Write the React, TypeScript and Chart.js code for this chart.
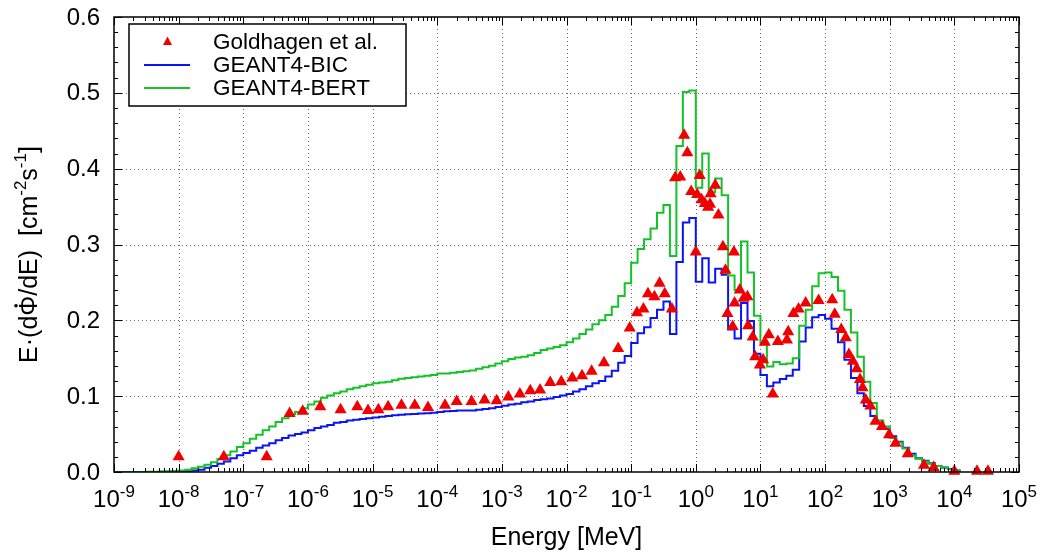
import React, { useEffect, useRef } from 'react';
import { Chart, registerables } from 'chart.js';

Chart.register(...registerables);

// ---- data ----
// Histogram bins: 10 bins per decade starting at 1e-9 MeV
const BIN_LOG_START = -9;
const BIN_LOG_WIDTH = 0.1;

const bicValues = [
  0, 0, 0, 0, 0, 0, 0.0001, 0.0002, 0.0003, 0.0005,
  0.0008, 0.001, 0.002, 0.003, 0.0055, 0.008, 0.011, 0.014, 0.018, 0.022,
  0.025, 0.028, 0.032, 0.035, 0.038, 0.042, 0.045, 0.048, 0.05, 0.052,
  0.055, 0.058, 0.06, 0.062, 0.065, 0.066, 0.068, 0.069, 0.07, 0.071,
  0.072, 0.073, 0.074, 0.075, 0.0755, 0.076, 0.0765, 0.077, 0.0775, 0.078,
  0.079, 0.08, 0.0805, 0.081, 0.081, 0.081, 0.082, 0.083, 0.084, 0.0857,
  0.0875, 0.089, 0.09, 0.092, 0.093, 0.095, 0.096, 0.097, 0.099, 0.101,
  0.103, 0.106, 0.109, 0.113, 0.117, 0.12, 0.126, 0.1335, 0.144, 0.153,
  0.17, 0.183, 0.191, 0.203, 0.214, 0.225, 0.182, 0.277, 0.329, 0.335,
  0.251, 0.282, 0.25, 0.268, 0.26, 0.188, 0.176, 0.223, 0.199, 0.156,
  0.128, 0.113, 0.118, 0.1225, 0.127, 0.135, 0.172, 0.1905, 0.204, 0.207,
  0.202, 0.189, 0.171, 0.148, 0.124, 0.104, 0.087, 0.074, 0.065, 0.057,
  0.047, 0.04, 0.032, 0.024, 0.018, 0.015, 0.0115, 0.008, 0.006, 0.004,
  0.002,
];

const bertValues = [
  0, 0, 0, 0, 0, 0.0002, 0.0004, 0.0006, 0.0009, 0.0013,
  0.002, 0.003, 0.005, 0.007, 0.0095, 0.013, 0.017, 0.022, 0.027, 0.033,
  0.038, 0.044, 0.049, 0.055, 0.06, 0.066, 0.071, 0.076, 0.079, 0.084,
  0.089, 0.093, 0.098, 0.101, 0.104, 0.106, 0.109, 0.111, 0.113, 0.115,
  0.117, 0.118, 0.119, 0.121, 0.123, 0.124, 0.125, 0.126, 0.127, 0.128,
  0.13, 0.13, 0.131, 0.132, 0.133, 0.134, 0.136, 0.138, 0.14, 0.143,
  0.146, 0.149, 0.151, 0.152, 0.154, 0.157, 0.161, 0.163, 0.165, 0.167,
  0.171, 0.176, 0.182, 0.188, 0.195, 0.2, 0.207, 0.218, 0.232, 0.249,
  0.276, 0.294, 0.307, 0.321, 0.342, 0.352, 0.285, 0.43, 0.501, 0.503,
  0.375, 0.42, 0.369, 0.387, 0.365, 0.259, 0.24, 0.304, 0.263, 0.206,
  0.17, 0.139, 0.145, 0.142, 0.143, 0.15, 0.193, 0.214, 0.245, 0.262,
  0.263, 0.257, 0.239, 0.214, 0.184, 0.152, 0.119, 0.091, 0.068, 0.06,
  0.045, 0.039, 0.031, 0.022, 0.0175, 0.014, 0.011, 0.008, 0.0055, 0.0035,
  0.0015,
];

// Goldhagen et al. measurement: energy [MeV] and E·dΦ/dE
const goldEnergy = [
  1.0e-8, 5.0e-8, 2.3e-7, 5.2e-7, 8.3e-7, 1.55e-6, 3.2e-6, 5.8e-6, 8.5e-6, 1.23e-5,
  1.74e-5, 2.8e-5, 4.5e-5, 7.2e-5, 1.32e-4, 2.0e-4, 3.4e-4, 5.4e-4, 8.3e-4, 1.26e-3,
  1.9e-3, 2.75e-3, 3.9e-3, 5.6e-3, 8.3e-3, 1.23e-2, 1.74e-2, 2.45e-2, 3.8e-2, 6.3e-2,
  9.5e-2, 0.123, 0.155, 0.182, 0.229, 0.275, 0.331, 0.427, 0.479, 0.575,
  0.66, 0.74, 0.85, 1.0, 1.05, 1.15, 1.23, 1.38, 1.55, 1.66,
  1.7, 2.0, 2.24, 2.63, 2.88, 3.09, 3.72, 3.89, 3.98, 4.79,
  5.5, 6.3, 6.46, 7.6, 8.3, 9.8, 11.0, 11.7, 13.5, 15.5,
  18.6, 25.7, 26.9, 32.4, 38.9, 50.1, 79.4, 129, 141, 178,
  209, 234, 269, 309, 347, 380, 427, 501, 603, 759,
  977, 1230, 1905, 3390, 4790, 10000, 22400, 33100,
];
const goldFlux = [
  0.02, 0.02, 0.02, 0.077, 0.08, 0.086, 0.082, 0.086, 0.081, 0.082,
  0.086, 0.088, 0.088, 0.085, 0.088, 0.093, 0.093, 0.095, 0.094, 0.099,
  0.103, 0.107, 0.108, 0.118, 0.119, 0.124, 0.127, 0.133, 0.144, 0.163,
  0.19, 0.21, 0.215, 0.235, 0.231, 0.249, 0.235, 0.215, 0.388, 0.389,
  0.444, 0.421, 0.37, 0.29, 0.366, 0.391, 0.359, 0.354, 0.349, 0.353,
  0.367, 0.378, 0.339, 0.297, 0.266, 0.209, 0.192, 0.29, 0.223, 0.24,
  0.229, 0.231, 0.193, 0.178, 0.152, 0.141, 0.148, 0.171, 0.181, 0.103,
  0.172, 0.174, 0.185, 0.209, 0.215, 0.223, 0.226, 0.227, 0.208, 0.188,
  0.177, 0.155, 0.146, 0.136, 0.122, 0.111, 0.095, 0.087, 0.067, 0.06,
  0.049, 0.038, 0.024, 0.009, 0.006, 0.001, 0.001, 0.001,
];

const xTickExponents = [-9, -8, -7, -6, -5, -4, -3, -2, -1, 0, 1, 2, 3, 4, 5];
const yTickValues = [0, 0.1, 0.2, 0.3, 0.4, 0.5, 0.6];
const yTickLabels = ['0.0', '0.1', '0.2', '0.3', '0.4', '0.5', '0.6'];

const seriesNames = ['Goldhagen et al.', 'GEANT4-BIC', 'GEANT4-BERT'];
const xAxisTitle = 'Energy [MeV]';

// ---- styles ----
const FONT = '"Liberation Sans", Arial, Helvetica, sans-serif';
const BLUE = '#0a14f5';
const GREEN = '#14c328';
const RED = '#f00000';
const TICK_SIZE = 24;
const SUP_SIZE = 17;
const TITLE_SIZE = 25;
const KEY_SIZE = 22.5;

function histPoints(values: number[]) {
  const pts = values.map((v, k) => ({ x: Math.pow(10, BIN_LOG_START + k * BIN_LOG_WIDTH), y: v }));
  pts.push({
    x: Math.pow(10, BIN_LOG_START + values.length * BIN_LOG_WIDTH),
    y: values[values.length - 1],
  });
  return pts;
}

type Part = { t: string; sup?: boolean };

function partsWidth(ctx: CanvasRenderingContext2D, parts: Part[], size: number, supSize: number) {
  let w = 0;
  for (const p of parts) {
    ctx.font = `${p.sup ? supSize : size}px ${FONT}`;
    w += ctx.measureText(p.t).width;
  }
  return w;
}

function drawParts(
  ctx: CanvasRenderingContext2D,
  parts: Part[],
  x: number,
  y: number,
  size: number,
  supSize: number,
  supRise: number,
) {
  ctx.textAlign = 'left';
  ctx.textBaseline = 'alphabetic';
  let cx = x;
  for (const p of parts) {
    ctx.font = `${p.sup ? supSize : size}px ${FONT}`;
    ctx.fillText(p.t, cx, p.sup ? y - supRise : y);
    cx += ctx.measureText(p.t).width;
  }
}

const gnuplotPlugin = {
  id: 'gnuplotFrame',
  beforeDatasetsDraw(chart: any) {
    const { ctx, chartArea: a, scales } = chart;
    const xs = scales.x;
    const ys = scales.y;
    ctx.save();
    ctx.strokeStyle = '#6a6a6a';
    ctx.lineWidth = 1;
    ctx.setLineDash([1, 3]);
    for (const e of xTickExponents) {
      if (e <= -9 || e >= 5) continue;
      const px = Math.round(xs.getPixelForValue(Math.pow(10, e))) + 0.5;
      ctx.beginPath();
      ctx.moveTo(px, a.top);
      ctx.lineTo(px, a.bottom);
      ctx.stroke();
    }
    for (const v of yTickValues) {
      if (v <= 0 || v >= 0.6) continue;
      const py = Math.round(ys.getPixelForValue(v)) + 0.5;
      ctx.beginPath();
      ctx.moveTo(a.left, py);
      ctx.lineTo(a.right, py);
      ctx.stroke();
    }
    ctx.restore();
  },
  afterDatasetsDraw(chart: any) {
    const { ctx, chartArea: a, scales } = chart;
    const xs = scales.x;
    const ys = scales.y;
    ctx.save();
    ctx.setLineDash([]);
    ctx.strokeStyle = '#000';
    ctx.fillStyle = '#000';

    // ticks
    ctx.lineWidth = 1;
    ctx.beginPath();
    for (let d = -9; d <= 5; d++) {
      const px = Math.round(xs.getPixelForValue(Math.pow(10, d))) + 0.5;
      ctx.moveTo(px, a.bottom);
      ctx.lineTo(px, a.bottom - 8);
      ctx.moveTo(px, a.top);
      ctx.lineTo(px, a.top + 8);
      if (d < 5) {
        for (let m = 2; m <= 9; m++) {
          const mx = Math.round(xs.getPixelForValue(m * Math.pow(10, d))) + 0.5;
          ctx.moveTo(mx, a.bottom);
          ctx.lineTo(mx, a.bottom - 4);
          ctx.moveTo(mx, a.top);
          ctx.lineTo(mx, a.top + 4);
        }
      }
    }
    for (let i = 0; i <= 30; i++) {
      const v = i * 0.02;
      const py = Math.round(ys.getPixelForValue(v)) + 0.5;
      const len = i % 5 === 0 ? 8 : 4;
      ctx.moveTo(a.left, py);
      ctx.lineTo(a.left + len, py);
      ctx.moveTo(a.right, py);
      ctx.lineTo(a.right - len, py);
    }
    ctx.stroke();

    // frame
    ctx.lineWidth = 1.5;
    ctx.strokeRect(a.left, a.top, a.right - a.left, a.bottom - a.top);

    // y tick labels
    ctx.font = `${TICK_SIZE}px ${FONT}`;
    ctx.textAlign = 'right';
    ctx.textBaseline = 'middle';
    yTickValues.forEach((v, i) => {
      ctx.fillText(yTickLabels[i], a.left - 14, ys.getPixelForValue(v) + 1);
    });

    // x tick labels: 10^e
    for (const e of xTickExponents) {
      const px = xs.getPixelForValue(Math.pow(10, e));
      const parts: Part[] = [{ t: '10' }, { t: String(e), sup: true }];
      const w = partsWidth(ctx, parts, TICK_SIZE, SUP_SIZE);
      drawParts(ctx, parts, px - w / 2, a.bottom + 35, TICK_SIZE, SUP_SIZE, 10);
    }

    // x title
    ctx.font = `${TITLE_SIZE}px ${FONT}`;
    ctx.textAlign = 'center';
    ctx.textBaseline = 'alphabetic';
    ctx.fillText(xAxisTitle, (a.left + a.right) / 2, a.bottom + 73);

    // y title (rotated)
    const head = 'E\u00B7(d';
    const yParts: Part[] = [
      { t: head + '\u03A6/dE)  [cm' },
      { t: '-2', sup: true },
      { t: 's' },
      { t: '-1', sup: true },
      { t: ']' },
    ];
    const yw = partsWidth(ctx, yParts, TITLE_SIZE, SUP_SIZE);
    ctx.save();
    ctx.translate(37, (a.top + a.bottom) / 2 + 10);
    ctx.rotate(-Math.PI / 2);
    drawParts(ctx, yParts, -yw / 2, 0, TITLE_SIZE, SUP_SIZE, 11);
    // dot above Phi (time derivative)
    ctx.font = `${TITLE_SIZE}px ${FONT}`;
    const hw = ctx.measureText(head).width;
    const pw = ctx.measureText('\u03A6').width;
    ctx.beginPath();
    ctx.arc(-yw / 2 + hw + pw / 2, -21, 1.8, 0, Math.PI * 2);
    ctx.fill();
    ctx.restore();

    // legend
    const lx = 129, ly = 24, lw = 277, lh = 82;
    ctx.fillStyle = '#fff';
    ctx.fillRect(lx, ly, lw, lh);
    ctx.strokeStyle = '#000';
    ctx.lineWidth = 1.5;
    ctx.strokeRect(lx, ly, lw, lh);
    const rows = [41.5, 65, 88];
    ctx.fillStyle = RED;
    ctx.beginPath();
    ctx.moveTo(167.5, rows[0] - 5);
    ctx.lineTo(172, rows[0] + 3.5);
    ctx.lineTo(163, rows[0] + 3.5);
    ctx.closePath();
    ctx.fill();
    ctx.lineWidth = 2;
    ctx.strokeStyle = BLUE;
    ctx.beginPath();
    ctx.moveTo(144, rows[1]);
    ctx.lineTo(190, rows[1]);
    ctx.stroke();
    ctx.strokeStyle = GREEN;
    ctx.beginPath();
    ctx.moveTo(144, rows[2]);
    ctx.lineTo(190, rows[2]);
    ctx.stroke();
    ctx.fillStyle = '#000';
    ctx.font = `${KEY_SIZE}px ${FONT}`;
    ctx.textAlign = 'left';
    ctx.textBaseline = 'middle';
    seriesNames.forEach((n, i) => ctx.fillText(n, 213, rows[i] + 1));

    ctx.restore();
  },
};

export default function App() {
  const ref = useRef<HTMLCanvasElement | null>(null);

  useEffect(() => {
    if (!ref.current) return;
    const chart = new Chart(ref.current, {
      type: 'line',
      data: {
        datasets: [
          {
            label: seriesNames[0],
            data: goldEnergy.map((e, i) => ({ x: e, y: goldFlux[i] })),
            showLine: false,
            pointStyle: 'triangle',
            pointRadius: 7,
            pointBackgroundColor: RED,
            pointBorderColor: RED,
            pointBorderWidth: 0,
            clip: false,
          } as any,
          {
            label: seriesNames[2],
            data: histPoints(bertValues),
            borderColor: GREEN,
            borderWidth: 2,
            stepped: 'before',
            pointRadius: 0,
            fill: false,
          },
          {
            label: seriesNames[1],
            data: histPoints(bicValues),
            borderColor: BLUE,
            borderWidth: 2,
            stepped: 'before',
            pointRadius: 0,
            fill: false,
          },
        ],
      },
      options: {
        responsive: false,
        animation: false,
        events: [],
        layout: { padding: { left: 114, right: 22, top: 17, bottom: 80 } },
        plugins: { legend: { display: false }, tooltip: { enabled: false } },
        scales: {
          x: { type: 'logarithmic', min: 1e-9, max: 1e5, display: false },
          y: { type: 'linear', min: 0, max: 0.6, display: false },
        },
      },
      plugins: [gnuplotPlugin],
    });
    return () => chart.destroy();
  }, []);

  return (
    <div style={{ position: 'absolute', left: 0, top: 0, width: 1041, height: 552, background: '#fff' }}>
      <canvas ref={ref} width={1041} height={552} style={{ width: 1041, height: 552 }} />
    </div>
  );
}
